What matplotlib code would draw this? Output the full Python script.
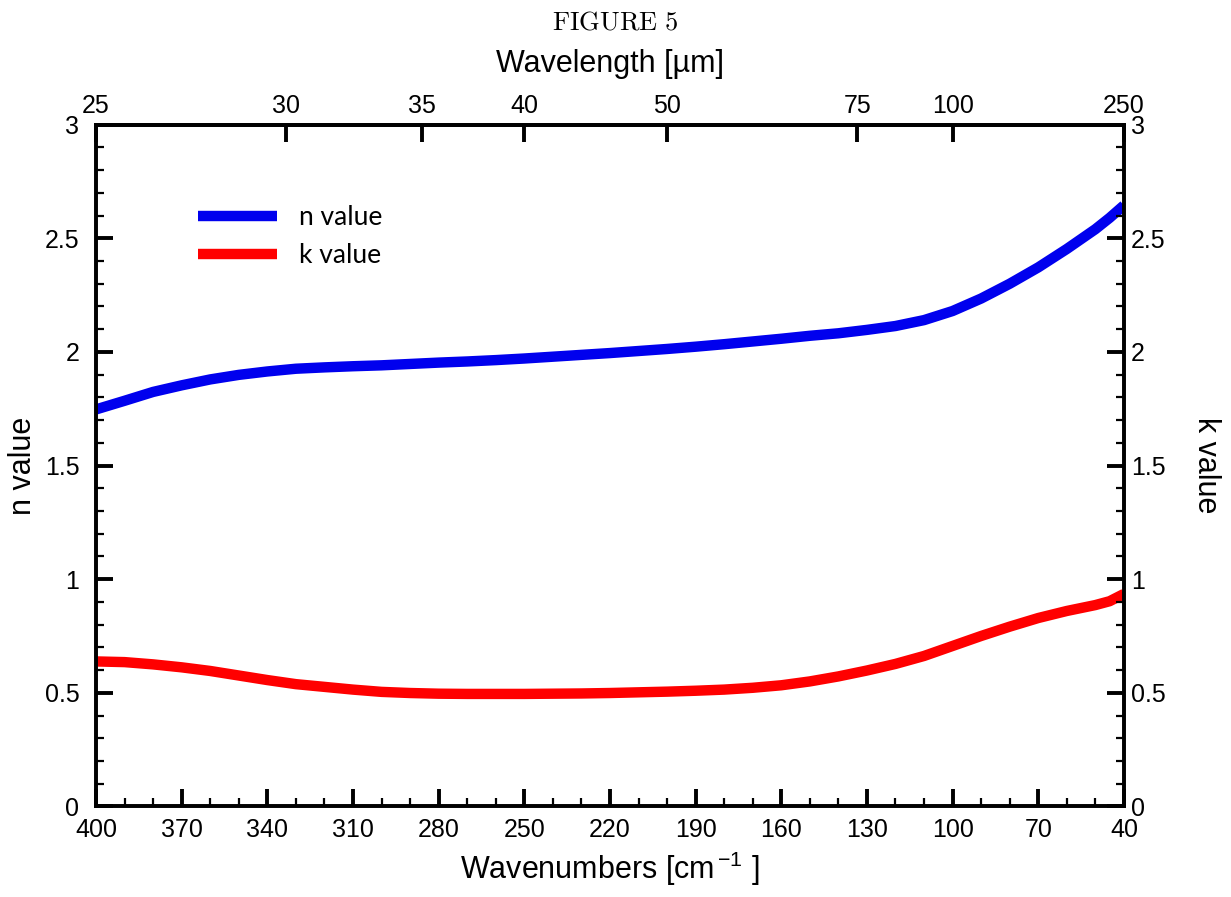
import numpy as np
import matplotlib
matplotlib.use("Agg")
import matplotlib.pyplot as plt
from matplotlib.ticker import MultipleLocator, NullLocator, FixedLocator

plt.rcParams['font.family'] = ['Liberation Sans', 'DejaVu Sans']
plt.rcParams['mathtext.fontset'] = 'custom'
plt.rcParams['mathtext.rm'] = 'Liberation Sans'
plt.rcParams['mathtext.it'] = 'Liberation Sans'

# wavenumber grid [cm-1]
wavenum = [400, 390, 380, 370, 360, 350, 340, 330, 320, 310, 300, 290, 280,
           270, 260, 250, 240, 230, 220, 210, 200, 190, 180, 170, 160, 150,
           140, 130, 120, 110, 100, 90, 80, 70, 60, 50, 45, 40]
n_val = [1.747, 1.785, 1.824, 1.853, 1.879, 1.899, 1.914, 1.926, 1.932, 1.937,
         1.941, 1.947, 1.953, 1.958, 1.964, 1.971, 1.979, 1.987, 1.995, 2.004,
         2.013, 2.023, 2.034, 2.046, 2.058, 2.071, 2.082, 2.097, 2.114, 2.140,
         2.180, 2.235, 2.300, 2.372, 2.453, 2.540, 2.590, 2.645]
k_val = [0.638, 0.635, 0.625, 0.612, 0.596, 0.576, 0.556, 0.538, 0.526, 0.514,
         0.504, 0.499, 0.496, 0.495, 0.495, 0.495, 0.496, 0.497, 0.499, 0.502,
         0.505, 0.509, 0.514, 0.522, 0.533, 0.550, 0.572, 0.598, 0.627, 0.662,
         0.706, 0.750, 0.791, 0.829, 0.860, 0.886, 0.903, 0.935]
wl_ticks = [25, 30, 35, 40, 50, 75, 100, 250]
y_ticks = [0, 0.5, 1, 1.5, 2, 2.5, 3]
y_labels = ["0", "0.5", "1", "1.5", "2", "2.5", "3"]

fig = plt.figure(figsize=(12.31, 8.97), dpi=100)
ax = fig.add_axes([0.078, 0.101, 0.835, 0.76])

ax.plot(wavenum, n_val, color="#0000ee", lw=7.5, solid_capstyle="butt",
        solid_joinstyle="round", label="n value")
ax.plot(wavenum, k_val, color="#ff0000", lw=7.5, solid_capstyle="butt",
        solid_joinstyle="round", label="k value")

ax.set_xlim(400, 40)
ax.set_ylim(0, 3)
ax.xaxis.set_major_locator(FixedLocator(np.arange(400, 39, -30)))
ax.xaxis.set_minor_locator(MultipleLocator(10))
ax.set_yticks(y_ticks)
ax.set_yticklabels(y_labels)
ax.yaxis.set_minor_locator(MultipleLocator(0.1))

for s in ax.spines.values():
    s.set_linewidth(2.6)

ax.tick_params(which="major", direction="in", length=12, width=2.8, labelsize=18)
ax.tick_params(which="minor", direction="in", length=6, width=1.6)
ax.tick_params(axis="x", which="major", pad=8)
ax.tick_params(axis="y", which="major", pad=12)

ax.set_xlabel(r"Wavenumbers [cm$^{\,\mathregular{-1}}$ ]", fontsize=22, labelpad=6)
ax.set_ylabel("n value", fontsize=22, labelpad=5)

# right axis, same scale
ax2 = ax.twinx()
ax2.set_ylim(0, 3)
ax2.set_yticks(y_ticks)
ax2.set_yticklabels(y_labels)
ax2.yaxis.set_minor_locator(MultipleLocator(0.1))
ax2.tick_params(which="major", direction="in", length=12, width=2.8, labelsize=18, pad=5)
ax2.tick_params(which="minor", direction="in", length=6, width=1.6)
ax2.set_ylabel("k value", fontsize=22, rotation=-90, labelpad=40)
for s in ax2.spines.values():
    s.set_linewidth(2.6)

# top axis in wavelength [um]
sec = ax.secondary_xaxis("top", functions=(lambda x: 1e4 / np.asarray(x, float),
                                           lambda x: 1e4 / np.asarray(x, float)))
sec.set_xticks(wl_ticks)
sec.set_xticklabels([str(w) for w in wl_ticks])
sec.xaxis.set_minor_locator(NullLocator())
sec.tick_params(which="major", direction="in", length=12, width=2.8, labelsize=18, pad=5)
sec.set_xlabel("Wavelength [µm]", fontsize=22, labelpad=16)
sec.spines["top"].set_linewidth(2.6)

leg = ax.legend(loc="upper left", bbox_to_anchor=(0.099, 0.882), frameon=False,
                handlelength=3.0, handletextpad=0.83, labelspacing=0.5,
                borderpad=0, borderaxespad=0, prop={"family": "Lato", "size": 19})

fig.text(0.5, 0.975, r"$\mathrm{FIGURE\ 5}$", ha="center", va="center",
         fontsize=19, math_fontfamily="cm")

fig.savefig("out.png", dpi=100)
